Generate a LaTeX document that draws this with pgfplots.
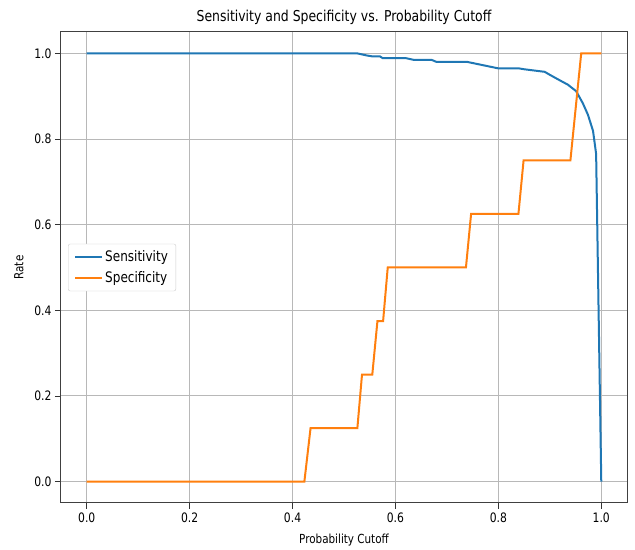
\documentclass[border=0pt]{standalone}
\usepackage{pgfplots}
\pgfplotsset{compat=1.18}
\usepackage{fontspec}
\setmainfont{DejaVu Sans}[FakeStretch=0.83]
\definecolor{tabblue}{HTML}{1F77B4}
\definecolor{taborange}{HTML}{FF7F0E}
\begin{document}
\begin{tikzpicture}
\begin{axis}[
  name=ax,
  scale only axis,
  width=566pt, height=471pt,
  xmin=-0.05, xmax=1.05, ymin=-0.05, ymax=1.05,
  xtick={0,0.2,0.4,0.6,0.8,1.0},
  ytick={0,0.2,0.4,0.6,0.8,1.0},
  xtick pos=bottom, ytick pos=left,
  /pgf/number format/assume math mode=true,
  xticklabel style={/pgf/number format/.cd,fixed,fixed zerofill,precision=1},
  yticklabel style={/pgf/number format/.cd,fixed,fixed zerofill,precision=1},
  ticklabel style={font=\fontsize{13}{15}\selectfont},
  tick align=outside,
  major tick length=6pt,
  tick style={black!80, line width=0.8pt},
  axis line style={black!75, line width=1pt},
  grid=major,
  major grid style={black!28, line width=0.9pt},
  title={Sensitivity and Specificity vs. Probability Cutoff},
  title style={font=\fontsize{15}{18}\selectfont, yshift=-2pt},
  xlabel={Probability Cutoff},
  ylabel={Rate},
  label style={font=\fontsize{12.5}{15}\selectfont},
  xlabel style={yshift=-5pt},
  ylabel style={yshift=4pt},
  legend style={at={(0.0124,0.5)}, anchor=west, draw=black!20, rounded corners=2pt,
    font=\fontsize{14.5}{17}\selectfont, row sep=4pt, inner xsep=6pt, inner ysep=5pt},
  legend cell align=left,
  legend image code/.code={\draw[#1] (0pt,0pt) -- (27pt,0pt);},
]
\addplot[tabblue, line width=2pt] coordinates {
(0,1) (0.526,1) (0.545,0.995) (0.555,0.993) (0.57,0.993) (0.575,0.989) (0.62,0.989)
(0.635,0.985) (0.67,0.985) (0.68,0.98) (0.74,0.98) (0.76,0.975) (0.78,0.97) (0.80,0.965)
(0.84,0.965) (0.85,0.963) (0.87,0.96) (0.89,0.957) (0.90,0.95) (0.915,0.94) (0.935,0.927)
(0.951,0.912) (0.964,0.884) (0.974,0.857) (0.984,0.819) (0.990,0.765) (1.0,0)
};
\addlegendentry{Sensitivity}
\addplot[taborange, line width=2pt] coordinates {
(0,0) (0.423,0) (0.435,0.125) (0.526,0.125) (0.535,0.25) (0.555,0.25) (0.565,0.375)
(0.576,0.375) (0.585,0.5) (0.737,0.5) (0.747,0.625) (0.839,0.625) (0.849,0.75)
(0.940,0.75) (0.961,1) (1.0,1)
};
\addlegendentry{Specificity}
\end{axis}
\path ([shift={(-61pt,-47pt)}]ax.south west) rectangle ([shift={(8pt,32pt)}]ax.north east);
\end{tikzpicture}
\end{document}
